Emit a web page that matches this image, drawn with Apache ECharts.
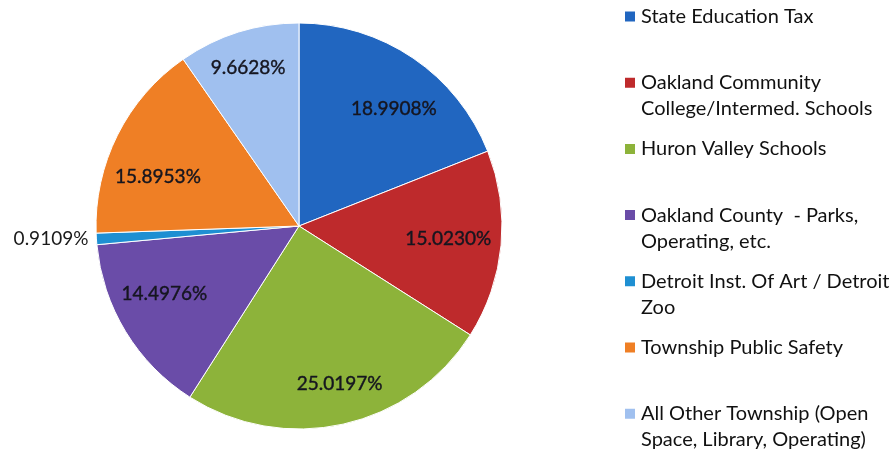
<!DOCTYPE html>
<html>
<head>
<meta charset="utf-8">
<script src="https://cdn.jsdelivr.net/npm/echarts@6/dist/echarts.min.js"></script>
<style>
  html, body { margin: 0; padding: 0; background: #fff; }
  #chart { width: 893px; height: 455px; }
</style>
</head>
<body>
<div id="chart"></div>
<script>
// categories (line breaks as in the legend of the original)
var categories = [
  'State Education Tax',
  'Oakland Community\nCollege/Intermed. Schools',
  'Huron Valley Schools',
  'Oakland County  - Parks,\nOperating, etc.',
  'Detroit Inst. Of Art / Detroit\nZoo',
  'Township Public Safety',
  'All Other Township (Open\nSpace, Library, Operating)'
];
// share of millage, percent
var shares = [18.9908, 15.0230, 25.0197, 14.4976, 0.9109, 15.8953, 9.6628];
var colors = ['#2166c0', '#be2a2c', '#8db33a', '#6a4ca8', '#1e8fd2', '#ef7f25', '#a0c0ef'];

var chart = echarts.init(document.getElementById('chart'));

var FONT = 'Lato';
var LINE_H = 26;
var cx = 299, cy = 226, R = 203;

// small nudges, like Excel's "best fit" label placement
var labelNudge = [[5, 15], [-10, -2], [6, 2], [2, -15], [0, 0], [2, 23], [-3, -5]];

function fmt(v) {
  return v.toFixed(4) + '%';
}

// one legend block per entry so the first lines sit on an even step
var legends = categories.map(function (name, i) {
  var iconY = 16.5 + i * 66.2;
  var twoLines = name.indexOf('\n') >= 0;
  return {
    data: [name],
    orient: 'vertical',
    left: 623,
    top: twoLines ? iconY - LINE_H * 1.5 : iconY - LINE_H / 2,
    padding: 0,
    icon: 'rect',
    itemWidth: 12,
    itemHeight: 12,
    selectedMode: false,
    formatter: function (n) {
      // blank line in front keeps the marker on the first text line
      return n.indexOf('\n') >= 0 ? '\n' + n : n;
    },
    textStyle: {
      fontFamily: FONT,
      fontSize: 20,
      lineHeight: LINE_H,
      color: '#111111'
    }
  };
});

var option = {
  backgroundColor: '#ffffff',
  color: colors,
  animation: false,
  legend: legends,
  series: [{
    name: 'slices',
    type: 'pie',
    center: [cx, cy],
    radius: [0, R],
    startAngle: 90,
    clockwise: true,
    itemStyle: { borderColor: '#ffffff', borderWidth: 1 },
    labelLine: { show: false, length: 4, length2: 2 },
    labelLayout: { dx: 3 },
    data: categories.map(function (name, i) {
      return {
        name: name,
        value: shares[i],
        label: {
          show: shares[i] < 2,
          position: 'outside',
          formatter: function (p) { return fmt(p.value); },
          fontFamily: FONT,
          fontSize: 19,
          color: '#1a1a1a'
        }
      };
    })
  }, {
    // transparent ring that only carries the inside labels further out
    name: 'labels',
    type: 'pie',
    center: [cx, cy],
    radius: [111, R],
    startAngle: 90,
    clockwise: true,
    silent: true,
    z: 3,
    itemStyle: { color: 'rgba(0,0,0,0)' },
    labelLine: { show: false },
    labelLayout: function (p) {
      var n = labelNudge[p.dataIndex];
      return { dx: n[0], dy: n[1] };
    },
    data: categories.map(function (name, i) {
      return {
        name: name,
        value: shares[i],
        label: {
          show: shares[i] >= 2,
          position: 'inside',
          formatter: function (p) { return fmt(p.value); },
          fontFamily: FONT,
          fontSize: 19,
          color: '#15151f',
          textBorderColor: '#15151f',
          textBorderWidth: 0.4
        }
      };
    })
  }]
};

chart.setOption(option);
</script>
</body>
</html>
